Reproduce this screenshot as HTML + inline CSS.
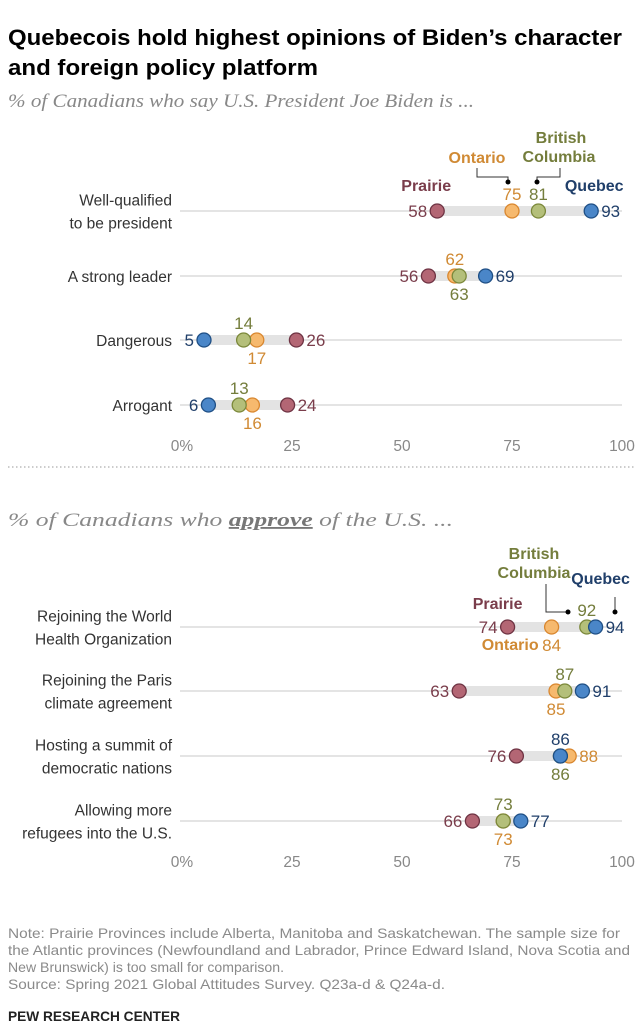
<!DOCTYPE html>
<html><head><meta charset="utf-8">
<style>
body{margin:0;background:#fff;}
svg{display:block;font-family:"Liberation Sans",sans-serif;}
</style></head>
<body>
<svg id="c" width="644" height="1024" viewBox="0 0 644 1024" xmlns="http://www.w3.org/2000/svg">
<text x="8" y="45" font-size="22.5" font-weight="bold" fill="#000" textLength="614" lengthAdjust="spacingAndGlyphs">Quebecois hold highest opinions of Biden’s character</text>
<text x="8" y="75" font-size="22.5" font-weight="bold" fill="#000" textLength="310" lengthAdjust="spacingAndGlyphs">and foreign policy platform</text>
<text x="8" y="107" font-size="18.5" font-style="italic" fill="#888" font-family="Liberation Serif,serif" textLength="466" lengthAdjust="spacingAndGlyphs">% of Canadians who say U.S. President Joe Biden is ...</text>
<line x1="8" y1="467" x2="636" y2="467" stroke="#999" stroke-dasharray="1.5,2.5"/>
<text x="8" y="526" font-size="18.5" font-style="italic" fill="#888" font-family="Liberation Serif,serif" textLength="445" lengthAdjust="spacingAndGlyphs">% of Canadians who <tspan font-weight="bold" text-decoration="underline" fill="#777">approve</tspan> of the U.S. ...</text>
<g id="plot"></g>
<g font-size="14" fill="#8a8a8a">
<text x="8" y="938" textLength="612" lengthAdjust="spacingAndGlyphs">Note: Prairie Provinces include Alberta, Manitoba and Saskatchewan. The sample size for</text>
<text x="8" y="955" textLength="622" lengthAdjust="spacingAndGlyphs">the Atlantic provinces (Newfoundland and Labrador, Prince Edward Island, Nova Scotia and</text>
<text x="8" y="972" textLength="276" lengthAdjust="spacingAndGlyphs">New Brunswick) is too small for comparison.</text>
<text x="8" y="989" textLength="437" lengthAdjust="spacingAndGlyphs">Source: Spring 2021 Global Attitudes Survey. Q23a-d &amp; Q24a-d.</text>
</g>
<text x="8" y="1021" font-size="14" font-weight="bold" fill="#222" textLength="172" lengthAdjust="spacingAndGlyphs">PEW RESEARCH CENTER</text>
</svg>
<script>
const topCats=[["Well-qualified","to be president"],["A strong leader"],["Dangerous"],["Arrogant"]];
const topPrairie=[58,56,26,24];
const topOntario=[75,62,17,16];
const topBC=[81,63,14,13];
const topQuebec=[93,69,5,6];
const topPos={P:["l","l","r","r"],O:["a","a","b","b"],B:["a","b","a","a"],Q:["r","r","l","l"]};
const botCats=[["Rejoining the World","Health Organization"],["Rejoining the Paris","climate agreement"],["Hosting a summit of","democratic nations"],["Allowing more","refugees into the U.S."]];
const botPrairie=[74,63,76,66];
const botOntario=[84,85,88,73];
const botBC=[92,87,86,73];
const botQuebec=[94,91,86,77];
const botPos={P:["l","l","l","l"],O:["b","b","r","b"],B:["a","a","b","a"],Q:["r","r","a","r"]};
const ticks=[0,25,50,75,100];
const tickLabels=["0%","25","50","75","100"];

const NS="http://www.w3.org/2000/svg";
const g=document.getElementById('plot');
const x=v=>182+v*4.4;
function mk(t,a,p){const e=document.createElementNS(NS,t);for(const k in a)e.setAttribute(k,a[k]);(p||g).appendChild(e);return e;}
const col={P:{f:"#b36674",s:"#6e3343",t:"#7a3d4b"},O:{f:"#f6b96e",s:"#d9872f",t:"#d08a34"},B:{f:"#b4bf7a",s:"#7b883a",t:"#747d3c"},Q:{f:"#4a86c8",s:"#1f4f85",t:"#203f6a"}};

function panel(cats,P,O,B,Q,pos,rowY,axisY,pre){
  cats.forEach((c,i)=>{
    const y=rowY[i];
    const ln=mk('line',{x1:180,y1:y,x2:622,y2:y,stroke:"#c8c8c8","stroke-width":1});
    
    
    c.forEach((s,j)=>{
      const t=mk('text',{x:172,y:y+6+(j-(c.length-1)/2)*23,"text-anchor":"end","font-size":15.5,fill:"#333"});
      t.textContent=s;
      
      
    });
    const vals={P:P[i],O:O[i],B:B[i],Q:Q[i]};
    const mn=Math.min(...Object.values(vals)),mx=Math.max(...Object.values(vals));
    const r=mk('rect',{x:x(mn),y:y-5,width:x(mx)-x(mn),height:10,fill:"#e3e3e3"});
    
    
    ["P","O","B","Q"].forEach(k=>{
      const v=vals[k],cx=x(v);
      const d=mk('circle',{cx:cx,cy:y,r:7,fill:col[k].f,stroke:col[k].s,"stroke-width":1.3});
      
      
      const p=pos[k][i];let tx=cx,ty=y+6,an="middle";
      if(p==="l"){tx=cx-10;an="end";}
      if(p==="r"){tx=cx+10;an="start";}
      if(p==="a"){ty=y-11;}
      if(p==="b"){ty=y+24;}
      const t=mk('text',{x:tx,y:ty,"text-anchor":an,"font-size":17,fill:col[k].t});
      t.textContent=v;
      
      
    });
  });
  ticks.forEach((v,i)=>{
    const t=mk('text',{x:x(v),y:axisY,"text-anchor":"middle","font-size":15.5,fill:"#888"});
    t.textContent=tickLabels[i];
    
    
  });
}
panel(topCats,topPrairie,topOntario,topBC,topQuebec,topPos,[211,276,340,405],451,'top');
panel(botCats,botPrairie,botOntario,botBC,botQuebec,botPos,[627,691,756,821],867,'bottom');

function lab(txt,xx,yy,k,an){const t=mk('text',{x:xx,y:yy,"text-anchor":an||"middle","font-size":16,"font-weight":"bold",fill:col[k].t});t.textContent=txt;}
function leader(pts){const p=mk('polyline',{points:pts,fill:"none",stroke:"#333","stroke-width":1});}
function dot(xx,yy){const c=mk('circle',{cx:xx,cy:yy,r:2.5,fill:"#000"});}
// top legend
lab("Prairie",x(58)-11,191,"P");
lab("Ontario",477,163,"O");
lab("British",561,143,"B");lab("Columbia",559,162,"B");
lab("Quebec",x(93)+3,191,"Q");
leader("477,168 477,177 508,177 508,182");dot(508,182);
leader("560,168 560,177 537,177 537,182");dot(537,182);
// bottom legend
lab("British",534,559,"B");lab("Columbia",534,578,"B");
lab("Quebec",x(94)+5,584,"Q");
lab("Prairie",x(74)-10,609,"P");
lab("Ontario",x(84)-13,650,"O","end");
leader("546,584 546,612 568,612");dot(568,612);
leader("615,597 615,612");dot(615,612);
</script>
</body></html>
